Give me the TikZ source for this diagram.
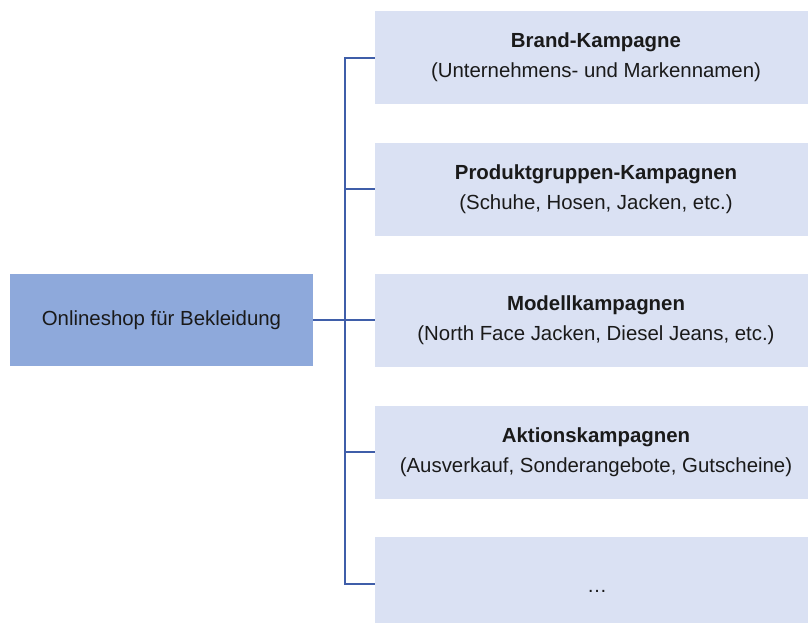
\documentclass[tikz,border=0pt]{standalone}
\usepackage{fontspec}
\setmainfont{Liberation Sans}
\definecolor{rootfill}{HTML}{8EA9DB}
\definecolor{leaffill}{HTML}{DAE1F3}
\definecolor{linkcol}{HTML}{3F5EA9}
\definecolor{txt}{HTML}{1A1A1A}
\begin{document}
\begin{tikzpicture}[x=1pt,y=-1pt,
  rootbox/.style={fill=rootfill, draw=none, minimum width=303pt, minimum height=92pt,
    inner sep=0pt, font=\fontsize{20.4}{24}\selectfont, text=txt},
  leafbox/.style={fill=leaffill, draw=none, minimum width=442pt, minimum height=93pt,
    inner sep=0pt, align=center, font=\fontsize{20.4}{30}\selectfont, text=txt},
  link/.style={draw=linkcol, line width=2pt, line join=miter}]
\useasboundingbox (0,0) rectangle (808,622);
% root
\node[rootbox] (root) at (161.5,320) {Onlineshop für Bekleidung};
% campaign boxes (they run on past the right edge of the page)
\node[leafbox] (c1) at (596,57.5) {\textbf{Brand-Kampagne}\\(Unternehmens- und Markennamen)};
\node[leafbox] (c2) at (596,189) {\textbf{Produktgruppen-Kampagnen}\\(Schuhe, Hosen, Jacken, etc.)};
\node[leafbox] (c3) at (596,320.5) {\textbf{Modellkampagnen}\\(North Face Jacken, Diesel Jeans, etc.)};
\node[leafbox] (c4) at (596,452) {\textbf{Aktionskampagnen}\\(Ausverkauf, Sonderangebote, Gutscheine)};
\node[leafbox] (c5) at (596,583.5) {};
\node[font=\fontsize{20}{20}\selectfont, text=txt, anchor=base] (dots) at (597,592) {\dots};
% tree connectors
\coordinate (top) at (345,57.5);
\coordinate (bot) at (345,583.5);
\draw[link] (root.east) -- (root.east -| c3.west);
\draw[link] (c1.west) -- (top) -- (bot) -- (c5.west);
\draw[link] (c2.west) -- (c2.west -| top);
\draw[link] (c4.west) -- (c4.west -| top);
\end{tikzpicture}
\end{document}
